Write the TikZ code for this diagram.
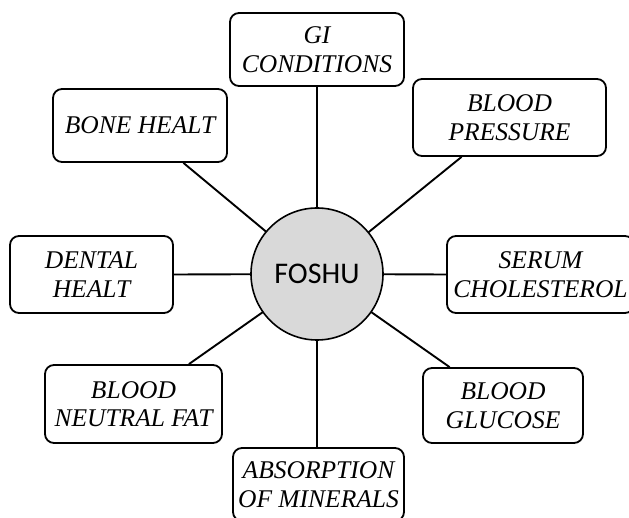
\documentclass[tikz,border=0pt]{standalone}
\usepackage{fontspec}
\setmainfont{Liberation Serif}
\newfontfamily\fosfont{Carlito}
\usetikzlibrary{calc,backgrounds}
\definecolor{hubgray}{HTML}{D9D9D9}
\tikzset{
  topic/.style={draw=black, line width=1.8pt, rounded corners=9pt, fill=white,
    inner sep=0pt, align=center, font=\fontsize{25.5}{28.5}\selectfont\itshape},
  hub/.style={circle, draw=black, line width=1.6pt, fill=hubgray, minimum size=132pt,
    inner sep=0pt, font=\fosfont\fontsize{30}{34}\selectfont},
  link/.style={line width=1.9pt}
}
\begin{document}
\begin{tikzpicture}[x=1pt,y=-1pt]
\useasboundingbox (0,0) rectangle (629,518);
\node[hub] (c) at (317,274) {FOSHU};
\node[topic, minimum width=174pt, minimum height=73pt] (gi) at (317,49.5) {GI\\CONDITIONS};
\node[topic, minimum width=174pt, minimum height=73pt] (bone) at (140,125.5) {BONE HEALT};
\node[topic, minimum width=193pt, minimum height=77pt] (bp) at (509.5,117.5) {BLOOD\\PRESSURE};
\node[topic, minimum width=163pt, minimum height=77pt] (dental) at (91.5,274.5) {DENTAL\\HEALT};
\node[topic, minimum width=187pt, minimum height=77pt] (serum) at (540.5,274.5) {SERUM\\CHOLESTEROL};
\node[topic, minimum width=177pt, minimum height=78pt] (fat) at (133.5,404) {BLOOD\\NEUTRAL FAT};
\node[topic, minimum width=160pt, minimum height=75pt] (glu) at (503,405.5) {BLOOD\\GLUCOSE};
\node[topic, minimum width=171pt, minimum height=73pt] (abs) at (318.5,484.5) {ABSORPTION\\OF MINERALS};
\coordinate (boneend) at ($(bone.south west)!0.747!(bone.south east)$);
\coordinate (bpend) at ($(bp.south west)!0.254!(bp.south east)$);
\coordinate (fatend) at ($(fat.north west)!0.81!(fat.north east)$);
\coordinate (gluend) at ($(glu.north west)!0.17!(glu.north east)$);
\begin{pgfonlayer}{background}
\draw[link] (c.center) -- (gi.south);
\draw[link] (c.center) -- (boneend);
\draw[link] (c.center) -- (bpend);
\draw[link] (c.center) -- (dental.east);
\draw[link] (c.center) -- (serum.west);
\draw[link] (c.center) -- (fatend);
\draw[link] (c.center) -- (gluend);
\draw[link] (c.center) -- (abs.north -| c.center);
\end{pgfonlayer}
\end{tikzpicture}
\end{document}
